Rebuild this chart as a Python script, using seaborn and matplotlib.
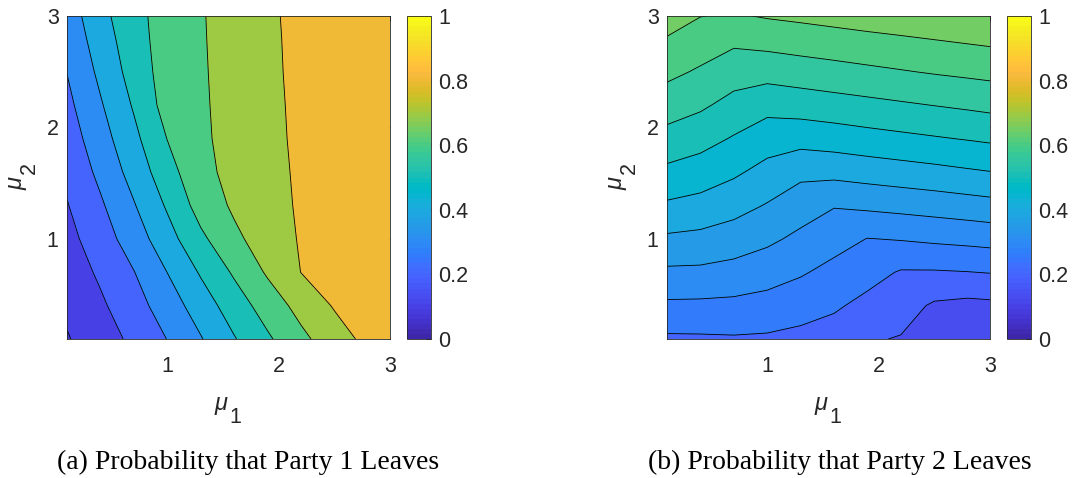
import numpy as np
import seaborn as sns
import matplotlib
matplotlib.use("Agg")
import matplotlib.pyplot as plt
from matplotlib.colors import ListedColormap, Normalize
from matplotlib.cm import ScalarMappable

# THEME AND FONTS
sns.set_theme(style="white")
plt.rcParams['font.family'] = ['Liberation Sans', 'DejaVu Sans']

# GRID OF MU VALUES
mu1 = [0.1, 0.4, 0.7, 1.0, 1.3, 1.6, 1.9, 2.2, 2.5, 2.8, 3.0]
mu2 = [0.1, 0.4, 0.7, 1.0, 1.3, 1.6, 1.9, 2.2, 2.5, 2.8, 3.0]

# PROBABILITY THAT PARTY 1 LEAVES (rows follow mu2, columns follow mu1)
p1_leaves = [
    [0.093, 0.155, 0.221, 0.302, 0.393, 0.493, 0.585, 0.676, 0.755, 0.826, 0.865],
    [0.118, 0.184, 0.261, 0.348, 0.449, 0.549, 0.645, 0.733, 0.808, 0.850, 0.870],
    [0.144, 0.216, 0.297, 0.401, 0.510, 0.613, 0.712, 0.801, 0.830, 0.855, 0.870],
    [0.169, 0.253, 0.349, 0.461, 0.579, 0.679, 0.748, 0.808, 0.835, 0.857, 0.870],
    [0.195, 0.286, 0.393, 0.512, 0.640, 0.715, 0.763, 0.812, 0.838, 0.857, 0.870],
    [0.221, 0.324, 0.438, 0.560, 0.675, 0.726, 0.769, 0.815, 0.838, 0.858, 0.870],
    [0.248, 0.358, 0.475, 0.602, 0.685, 0.729, 0.773, 0.819, 0.840, 0.860, 0.870],
    [0.275, 0.390, 0.510, 0.640, 0.688, 0.731, 0.775, 0.822, 0.842, 0.860, 0.870],
    [0.302, 0.422, 0.541, 0.645, 0.690, 0.734, 0.778, 0.825, 0.845, 0.862, 0.870],
    [0.327, 0.452, 0.557, 0.648, 0.692, 0.736, 0.780, 0.827, 0.846, 0.862, 0.870],
    [0.345, 0.471, 0.564, 0.650, 0.693, 0.738, 0.782, 0.829, 0.847, 0.863, 0.870],
]

# PROBABILITY THAT PARTY 2 LEAVES
p2_leaves = [
    [0.242, 0.243, 0.245, 0.243, 0.236, 0.227, 0.205, 0.197, 0.150, 0.139, 0.135],
    [0.291, 0.290, 0.288, 0.282, 0.271, 0.257, 0.236, 0.221, 0.193, 0.186, 0.189],
    [0.341, 0.340, 0.333, 0.321, 0.305, 0.286, 0.268, 0.246, 0.246, 0.249, 0.252],
    [0.392, 0.387, 0.376, 0.360, 0.339, 0.318, 0.299, 0.303, 0.309, 0.314, 0.318],
    [0.443, 0.434, 0.418, 0.397, 0.373, 0.353, 0.360, 0.366, 0.372, 0.379, 0.384],
    [0.489, 0.477, 0.458, 0.434, 0.412, 0.415, 0.422, 0.429, 0.436, 0.444, 0.449],
    [0.533, 0.518, 0.496, 0.473, 0.468, 0.474, 0.482, 0.489, 0.496, 0.503, 0.508],
    [0.574, 0.558, 0.534, 0.516, 0.523, 0.530, 0.537, 0.544, 0.551, 0.558, 0.563],
    [0.612, 0.594, 0.572, 0.569, 0.576, 0.583, 0.590, 0.597, 0.604, 0.610, 0.614],
    [0.648, 0.628, 0.612, 0.620, 0.627, 0.633, 0.640, 0.646, 0.652, 0.658, 0.662],
    [0.671, 0.651, 0.645, 0.654, 0.660, 0.667, 0.673, 0.678, 0.684, 0.690, 0.694],
]

levels_a = [0.1, 0.2, 0.3, 0.4, 0.5, 0.6, 0.7, 0.8]
levels_b = [0.2, 0.25, 0.3, 0.35, 0.4, 0.45, 0.5, 0.55, 0.6, 0.65]
axis_ticks = [1, 2, 3]
cbar_ticks = [0, 0.2, 0.4, 0.6, 0.8, 1]
cbar_labels = ['0', '0.2', '0.4', '0.6', '0.8', '1']
captions = ['(a) Probability that Party 1 Leaves', '(b) Probability that Party 2 Leaves']

# PARULA COLORMAP (MATLAB)
parula = ListedColormap([
    [0.2422, 0.1504, 0.6603], [0.2504, 0.1650, 0.7076], [0.2578, 0.1818, 0.7511], [0.2647, 0.1978, 0.7952],
    [0.2706, 0.2147, 0.8364], [0.2751, 0.2342, 0.8710], [0.2783, 0.2559, 0.8991], [0.2803, 0.2782, 0.9221],
    [0.2813, 0.3006, 0.9414], [0.2810, 0.3228, 0.9579], [0.2795, 0.3447, 0.9717], [0.2760, 0.3667, 0.9829],
    [0.2699, 0.3892, 0.9906], [0.2602, 0.4123, 0.9952], [0.2440, 0.4358, 0.9988], [0.2206, 0.4603, 0.9973],
    [0.1963, 0.4847, 0.9892], [0.1834, 0.5074, 0.9798], [0.1786, 0.5289, 0.9682], [0.1764, 0.5499, 0.9520],
    [0.1687, 0.5703, 0.9359], [0.1540, 0.5902, 0.9218], [0.1460, 0.6091, 0.9079], [0.1380, 0.6276, 0.8973],
    [0.1248, 0.6459, 0.8883], [0.1113, 0.6635, 0.8763], [0.0952, 0.6798, 0.8598], [0.0689, 0.6948, 0.8394],
    [0.0297, 0.7082, 0.8163], [0.0036, 0.7203, 0.7917], [0.0067, 0.7312, 0.7660], [0.0433, 0.7411, 0.7394],
    [0.0964, 0.7500, 0.7120], [0.1408, 0.7584, 0.6842], [0.1717, 0.7670, 0.6554], [0.1938, 0.7758, 0.6251],
    [0.2161, 0.7843, 0.5923], [0.2470, 0.7918, 0.5567], [0.2906, 0.7973, 0.5188], [0.3406, 0.8008, 0.4789],
    [0.3909, 0.8029, 0.4354], [0.4456, 0.8024, 0.3909], [0.5044, 0.7993, 0.3480], [0.5616, 0.7942, 0.3045],
    [0.6174, 0.7876, 0.2612], [0.6720, 0.7793, 0.2227], [0.7242, 0.7698, 0.1910], [0.7738, 0.7598, 0.1646],
    [0.8203, 0.7498, 0.1535], [0.8634, 0.7406, 0.1596], [0.9035, 0.7330, 0.1774], [0.9393, 0.7288, 0.2100],
    [0.9728, 0.7298, 0.2394], [0.9956, 0.7434, 0.2371], [0.9970, 0.7659, 0.2199], [0.9952, 0.7893, 0.2028],
    [0.9892, 0.8136, 0.1885], [0.9786, 0.8386, 0.1766], [0.9676, 0.8639, 0.1643], [0.9610, 0.8890, 0.1537],
    [0.9597, 0.9135, 0.1423], [0.9628, 0.9373, 0.1265], [0.9691, 0.9606, 0.1064], [0.9769, 0.9839, 0.0805],
], name='parula')

EDGE = '#262626'
W, H = 1075, 478

fig = plt.figure(figsize=(W / 100, H / 100), dpi=100)


def px_box(x0, y0, x1, y1):
    # pixel box (from top-left) -> figure fraction
    return [x0 / W, 1 - y1 / H, (x1 - x0) / W, (y1 - y0) / H]


def px_text(x, y, s, **kw):
    fig.text(x / W, 1 - y / H, s, **kw)


def draw_panel(ax, cax, z, levels, caption, dx, cap_x):
    z = np.array(z)
    bounds = [0.0] + levels + [1.0]
    fills = [parula(z.min())] + [parula(v) for v in levels]
    ax.contourf(mu1, mu2, z, levels=bounds, colors=fills)
    ax.contour(mu1, mu2, z, levels=levels, colors='black', linewidths=0.6)
    ax.set_xlim(0.1, 3)
    ax.set_ylim(0.1, 3)
    ax.set_xticks(axis_ticks)
    ax.set_yticks(axis_ticks)
    ax.tick_params(axis='both', direction='in', length=3.5, width=0.6, color=EDGE,
                   top=True, right=True, labelsize=15.5, labelcolor=EDGE)
    ax.tick_params(axis='x', pad=12)
    ax.tick_params(axis='y', pad=6)
    for s in ax.spines.values():
        s.set_color(EDGE)
        s.set_linewidth(0.6)

    # axis labels, mu with a full-size subscript like the MATLAB output
    px_text(dx + 221.5, 410, 'μ', fontsize=17, style='italic', ha='center', va='baseline', color=EDGE)
    px_text(dx + 235.5, 423, '1', fontsize=15.5, ha='center', va='baseline', color=EDGE)
    px_text(dx + 16, 183, 'μ', fontsize=17, style='italic', rotation=90, ha='center', va='center', color=EDGE)
    px_text(dx + 29, 168, '2', fontsize=15.5, rotation=90, ha='center', va='center', color=EDGE)

    cb = fig.colorbar(ScalarMappable(norm=Normalize(0, 1), cmap=parula), cax=cax)
    cb.set_ticks(cbar_ticks)
    cb.set_ticklabels(cbar_labels)
    cb.outline.set_edgecolor(EDGE)
    cb.outline.set_linewidth(0.6)
    cax.tick_params(direction='in', length=3.5, width=0.6, color=EDGE,
                    labelsize=15.5, labelcolor=EDGE, pad=5)

    px_text(cap_x, 462, caption, ha='center', va='center',
            family='Liberation Serif', fontsize=20, color='black')


ax1 = fig.add_axes(px_box(67, 16, 390, 339))
cax1 = fig.add_axes(px_box(407, 16, 431, 339))
ax2 = fig.add_axes(px_box(667, 16, 990, 339))
cax2 = fig.add_axes(px_box(1007, 16, 1031, 339))

draw_panel(ax1, cax1, p1_leaves, levels_a, captions[0], 0, 248)
draw_panel(ax2, cax2, p2_leaves, levels_b, captions[1], 600, 840)

fig.savefig('out.png', dpi=100)
